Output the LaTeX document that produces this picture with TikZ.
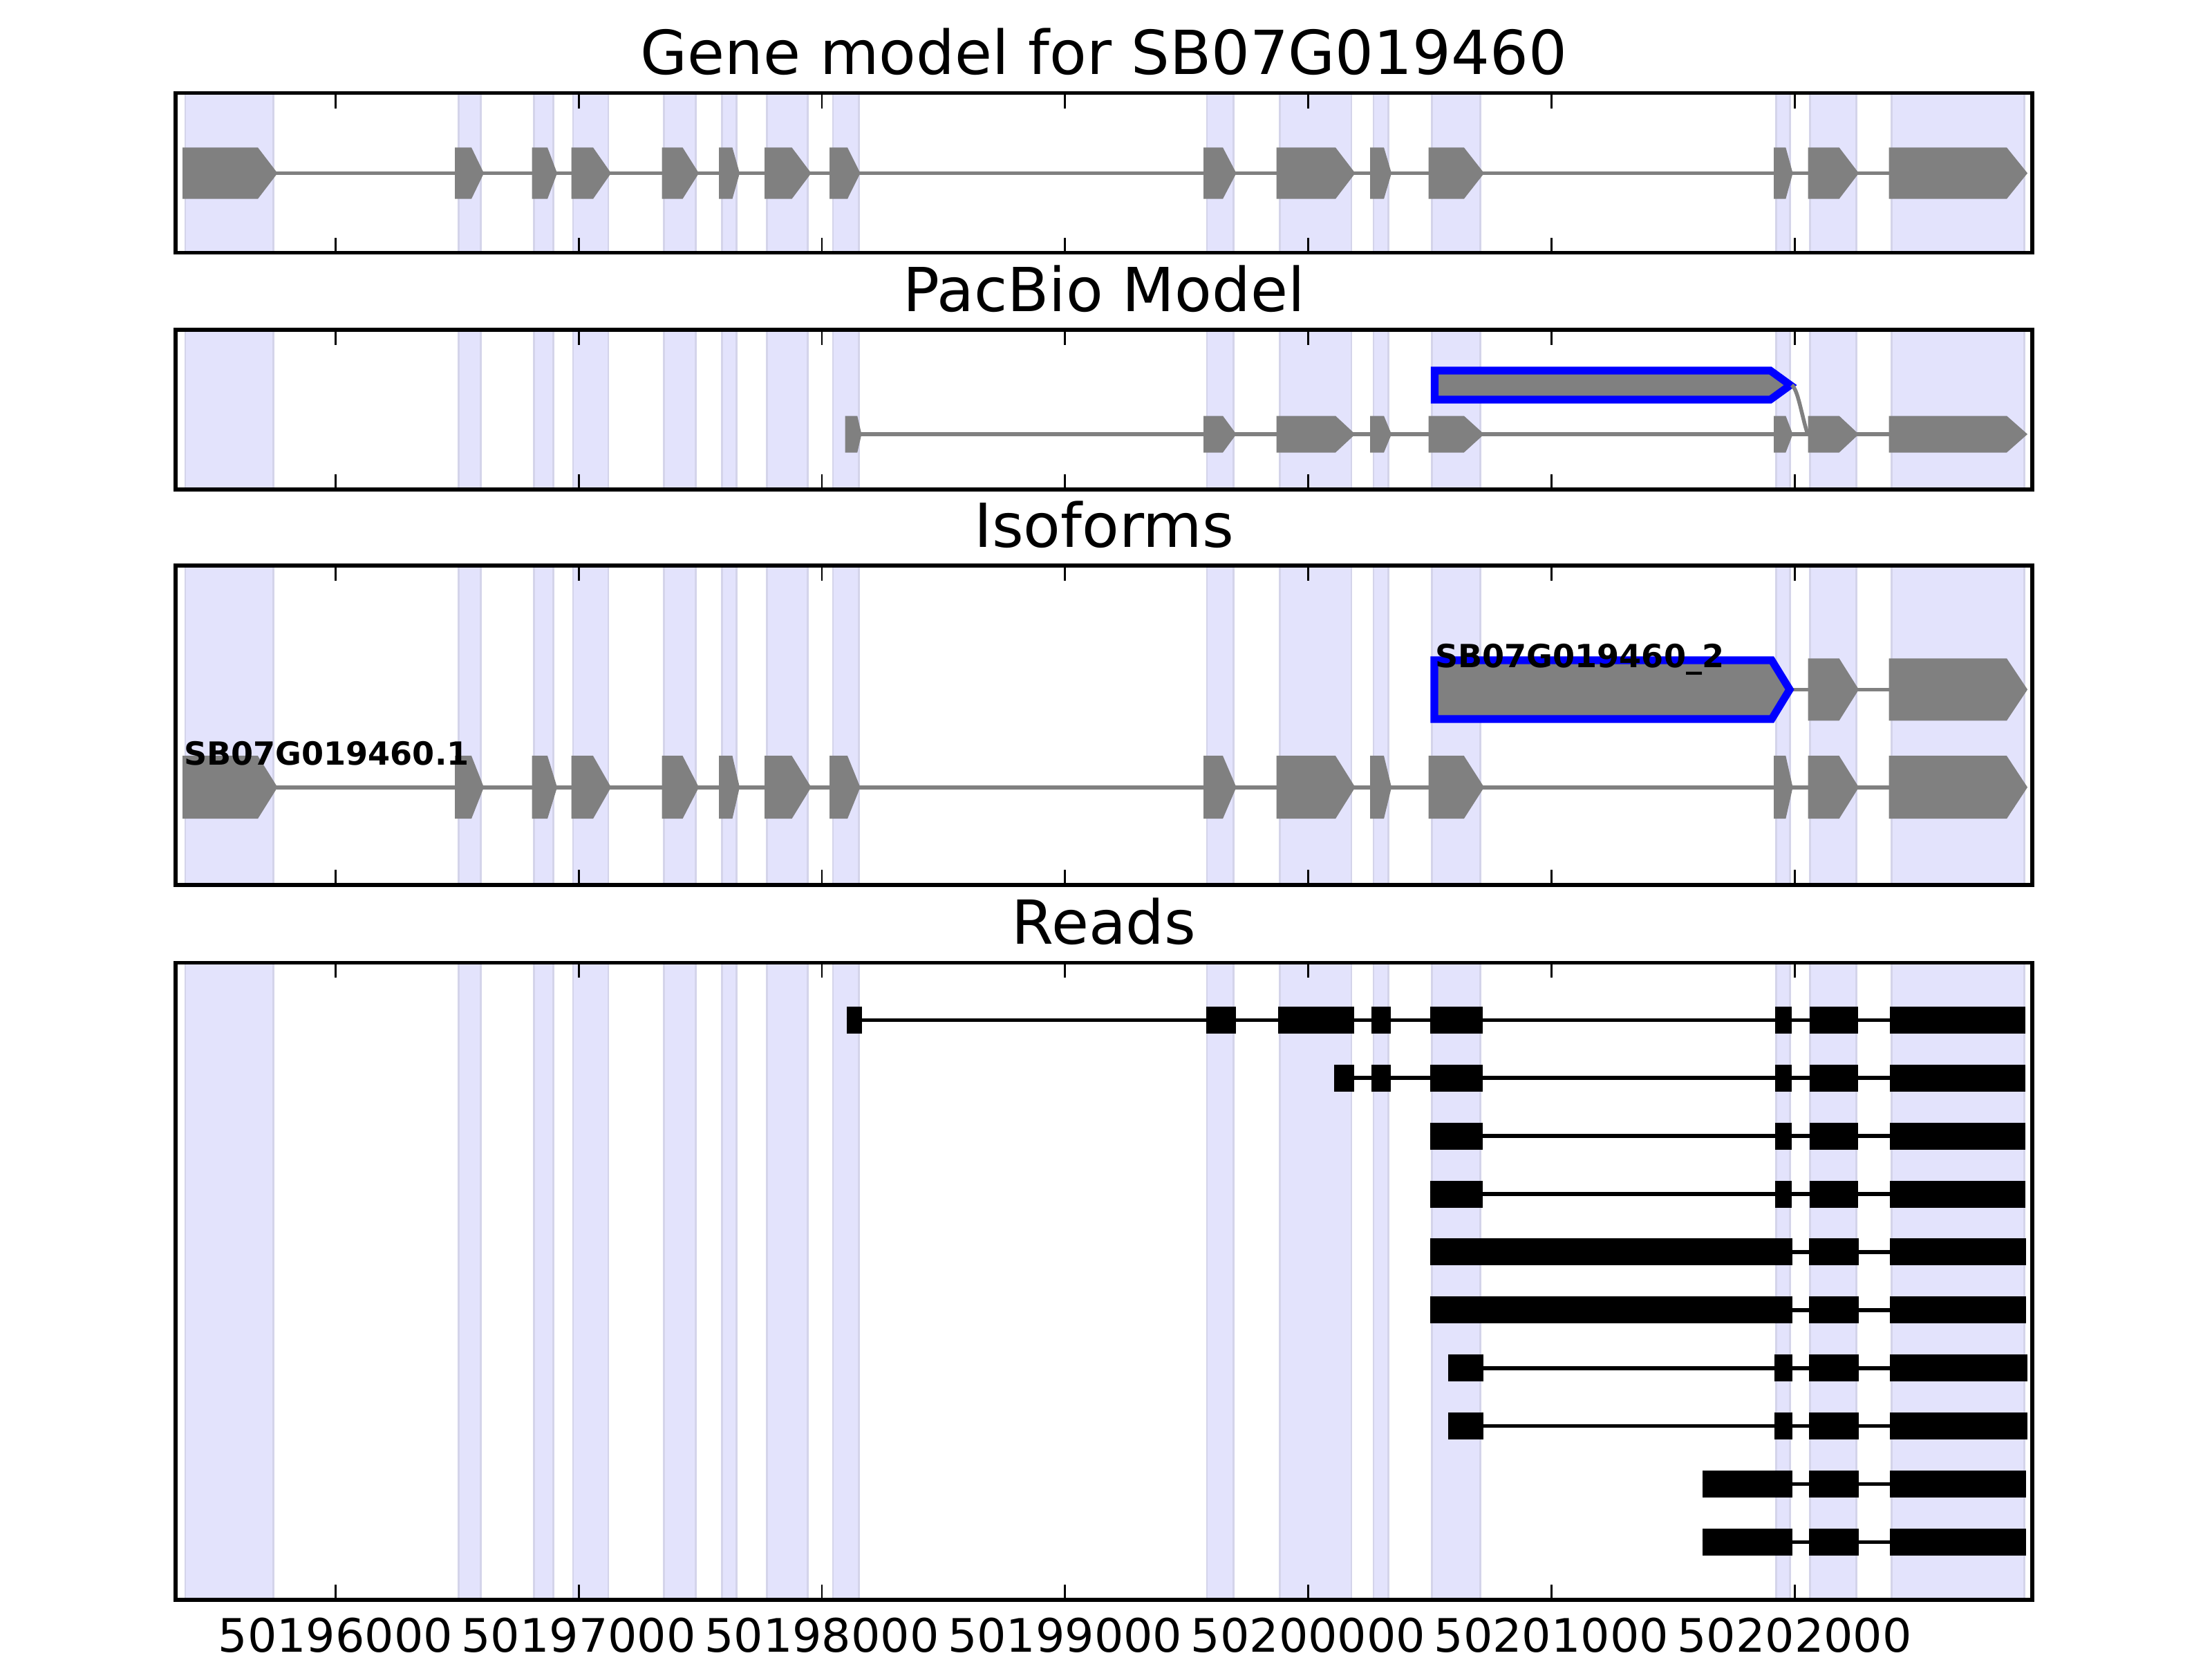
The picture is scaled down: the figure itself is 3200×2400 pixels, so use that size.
\documentclass[tikz,border=0pt]{standalone}
\usepackage{fontspec}
\setmainfont{DejaVu Sans}
\definecolor{shadefill}{RGB}{227,227,252}
\definecolor{shadeedge}{RGB}{212,212,234}
\definecolor{exongray}{RGB}{128,128,128}
\tikzset{
  shadebox/.style={fill=shadefill,draw=shadeedge,line width=0.5pt},
  exonfill/.style={fill=exongray},
  intronline/.style={draw=exongray,line width=1pt},
  readexon/.style={fill=black},
  readline/.style={draw=black,line width=1pt},
  frameline/.style={draw=black,line width=1pt},
  tickline/.style={draw=black,line width=0.5pt},
  bluebox/.style={fill=exongray,draw=blue,line width=2pt,line join=miter},
  paneltitle/.style={font=\fontsize{15.8}{19}\selectfont,inner sep=0pt},
  ticklabel/.style={font=\fontsize{12}{14}\selectfont,inner sep=0pt},
  isolabel/.style={font=\fontsize{8.3}{10}\selectfont\bfseries,inner sep=0pt}
}
\def\GMlist{264/373/401.5, 658/682/700, 769.5/792/806, 826.5/858/884, 957.5/987.5/1011, 1040/1059.5/1070, 1106/1145.5/1173.5, 1200/1226/1244.5, 1741/1769/1788.5, 1846.5/1932/1960.5, 1982/2002/2013, 2066.5/2117.8/2147, 2566/2583.3/2593.5, 2615.5/2660.6/2689, 2732.5/2903/2933}
\def\PBlist{1222.6/1240.2/1246.4, 1741/1769/1788.5, 1846.5/1932/1960.5, 1982/2002/2013, 2066.5/2117.8/2147, 2566/2583.3/2593.5, 2615.5/2660.6/2689, 2732.5/2903/2933}
\def\ISOlist{2615.5/2660.6/2689, 2732.5/2903/2933}
\def\SHlist{268.1/395.5, 663.2/695.7, 772.2/800.2, 829/880, 960.2/1006.1, 1044.3/1065.4, 1109.4/1168.6, 1205/1242.5, 1746/1784.3, 1851.8/1955, 1987/2008.6, 2071.7/2141.8, 2569.5/2589.8, 2618.4/2685.2, 2736.1/2928.2}
\def\PNlist{134.5/365.5, 477/708, 818/1280, 1392.3/2314}
\def\RowA{1224.5/1247, 1745.4/1788.3, 1849/1958.7, 1983.7/2012.2, 2068.5/2145.3, 2567.6/2591.7, 2617.6/2688.1, 2733.7/2930.1}
\def\RowB{1930.1/1958.7, 1983.7/2012.2, 2068.5/2145.3, 2567.6/2591.7, 2617.6/2688.1, 2733.7/2930.1}
\def\RowC{2068.5/2145.3, 2567.6/2591.7, 2617.6/2688.1, 2733.7/2930.1}
\def\RowD{2069.2/2592.5, 2617/2689, 2734/2930.7}
\def\RowE{2095.2/2145.7, 2566.5/2592.5, 2617/2689, 2734/2933}
\def\RowF{2462.5/2592.5, 2617/2689, 2734/2930.7}
% y centre, half height, list
\newcommand\GeneExons[3]{%
  \foreach \ea/\eb/\ec in #3 {%
    \fill[exonfill] (\ea,#1-#2) -- (\eb,#1-#2) -- (\ec,#1) -- (\eb,#1+#2) -- (\ea,#1+#2) -- cycle;}}
% row index, line start, line end, list
\newcommand\ReadRow[4]{%
  \pgfmathsetmacro\ry{1475.3+83.9*(#1-1)}%
  \draw[readline] (#2,\ry) -- (#3,\ry);
  \foreach \ra/\rb in #4 {\fill[readexon] (\ra,\ry-19.5) rectangle (\rb,\ry+19.5);}}
\begin{document}
\begin{tikzpicture}[x=0.18pt,y=-0.18pt]
\useasboundingbox (0,0) rectangle (3200,2400);
% shaded exon regions
\foreach \pt/\pb in \PNlist {
  \foreach \sa/\sb in \SHlist {\filldraw[shadebox] (\sa,\pt) rectangle (\sb,\pb);}
}
% Panel 1: gene model
\draw[intronline] (400,250.5) -- (2733,250.5);
\GeneExons{250.5}{37.2}{\GMlist}
% Panel 2: PacBio model
\draw[intronline] (1240,628) -- (2733,628);
\GeneExons{628}{26.5}{\PBlist}
\filldraw[bluebox] (2075.5,536) -- (2561,536) -- (2590,557) -- (2561,578) -- (2075.5,578) -- cycle;
\coordinate (pbtip) at (2592,557);
\coordinate (pbnext) at (2615,628);
\draw[draw=exongray,line width=1pt] (pbtip) .. controls (2601,563) and (2606,600) .. (pbnext);
% Panel 3: isoforms
\draw[intronline] (400,1138.7) -- (2733,1138.7);
\GeneExons{1138.7}{45.5}{\GMlist}
\draw[intronline] (2585,997.3) -- (2733,997.3);
\GeneExons{997.3}{45}{\ISOlist}
\filldraw[bluebox] (2075,955) -- (2563,955) -- (2589,997.3) -- (2563,1040) -- (2075,1040) -- cycle;
\node[isolabel,anchor=base west] (iso1) at (265,1106.7) {SB07G019460.1};
\node[isolabel,anchor=base west] (iso2) at (2075,965) {SB07G019460\_2};
% Panel 4: reads
\ReadRow{1}{1224.5}{2930}{\RowA}
\ReadRow{2}{1930.1}{2930}{\RowB}
\ReadRow{3}{2068.5}{2930}{\RowC}
\ReadRow{4}{2068.5}{2930}{\RowC}
\ReadRow{5}{2069.2}{2930}{\RowD}
\ReadRow{6}{2069.2}{2930}{\RowD}
\ReadRow{7}{2095.2}{2930}{\RowE}
\ReadRow{8}{2095.2}{2930}{\RowE}
\ReadRow{9}{2462.5}{2930}{\RowF}
\ReadRow{10}{2462.5}{2930}{\RowF}
% frames and ticks
\foreach \pt/\pb in \PNlist {
  \draw[frameline] (254,\pt) rectangle (2940,\pb);
  \foreach \tx in {485.4,837.2,1189,1540.8,1892.6,2244.4,2596.2} {
    \draw[tickline] (\tx,\pt) -- ++(0,22);
    \draw[tickline] (\tx,\pb) -- ++(0,-22);
  }
}
% titles
\node[paneltitle,anchor=base] (t1) at (1597,107.7) {Gene model for SB07G019460};
\node[paneltitle,anchor=base] (t2) at (1597,450.2) {PacBio Model};
\node[paneltitle,anchor=base] (t3) at (1597,791.2) {Isoforms};
\node[paneltitle,anchor=base] (t4) at (1597,1365.5) {Reads};
% tick labels
\foreach \tx/\tl in {485.4/50196000,837.2/50197000,1189/50198000,1540.8/50199000,1892.6/50200000,2244.4/50201000,2596.2/50202000} {
  \node[ticklabel,anchor=north] (lab\tl) at (\tx,2339) {\tl};
}
\end{tikzpicture}
\end{document}
